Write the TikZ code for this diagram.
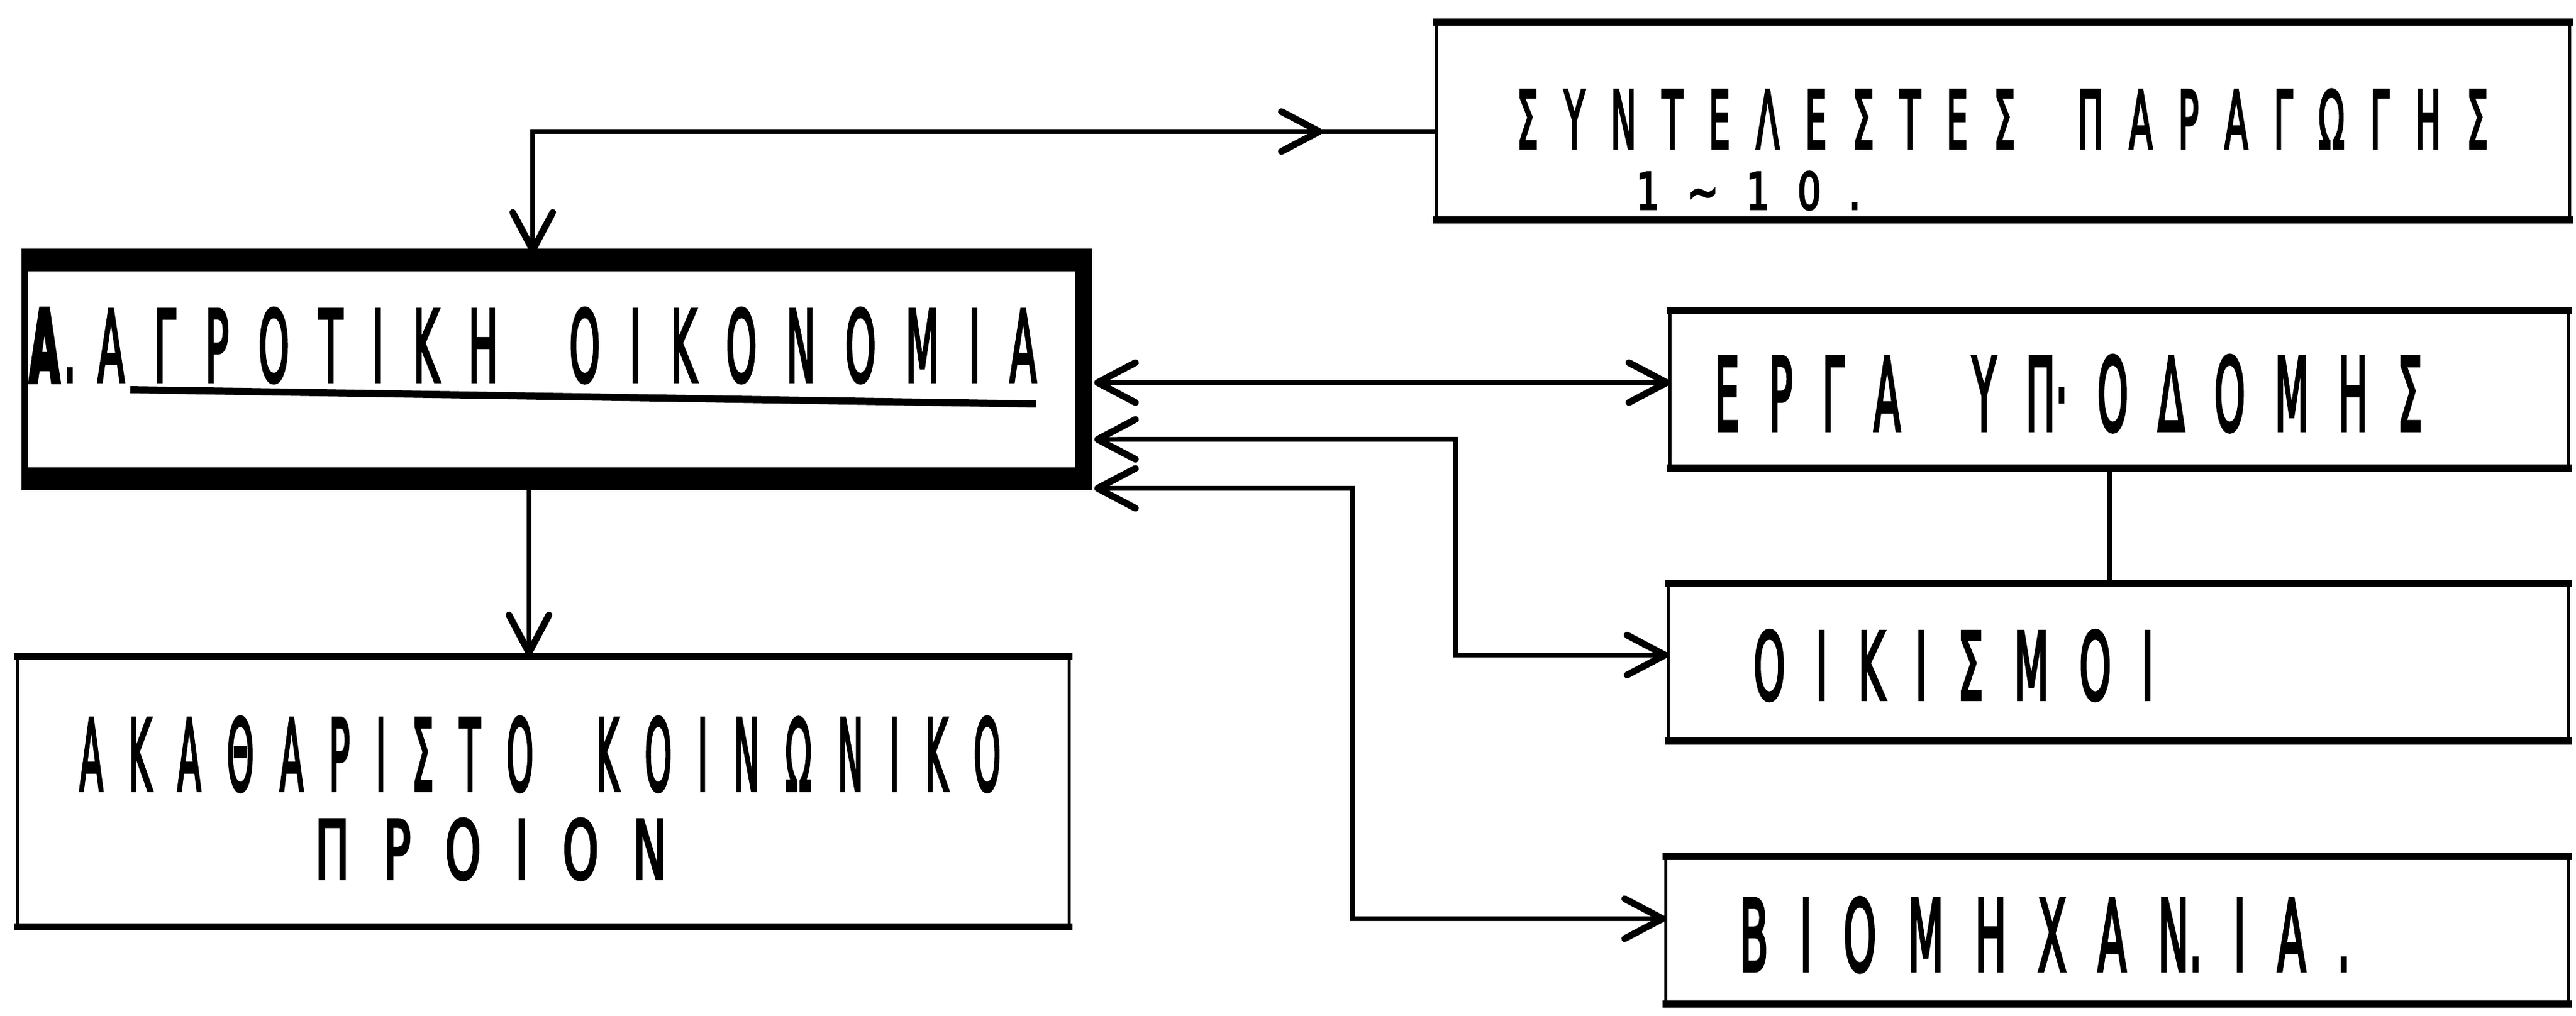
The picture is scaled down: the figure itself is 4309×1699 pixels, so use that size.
\documentclass[tikz,border=0pt]{standalone}
\usepackage{fontspec}
\setmainfont{DejaVu Sans}
\newfontfamily\stf[FakeBold=4]{DejaVu Sans}
\newfontfamily\stfb[FakeBold=6]{DejaVu Sans Bold}
\usetikzlibrary{arrows.meta,decorations.markings}
\newdimen\lsp
\def\spacedEnd{\spacedEnd}
\def\spEndmark{\spacedEnd}
\newcommand\spaced[1]{\spacedA#1\spacedEnd}
\def\spacedA#1{#1\spacedB}
\def\spacedB#1{\def\sptmp{#1}\ifx\sptmp\spEndmark\else\hskip\lsp\relax#1\expandafter\spacedB\fi}
\newcommand\stencil[3]{\resizebox{#1}{#2}{\stf\lsp=0.75em\relax\spaced{#3}}}
\tikzset{
  box/.style={draw, line width=1.6pt, inner sep=0pt, outer sep=0pt},
  hline/.style={line width=3.2pt, line cap=rect},
  conn/.style={line width=2.2pt},
  txt/.style={inner sep=0pt, outer sep=0pt, anchor=base west},
}
\begin{document}
\begin{tikzpicture}[x=0.01cm, y=-0.01cm,
  >={Straight Barb[length=18pt,width=19pt,line width=3.2pt,round]}]
\useasboundingbox (0,0) rectangle (4309,1699);
\fill[white] (0,0) rectangle (4309,1699);

% boxes
\node[box, minimum width=18.95cm, minimum height=3.31cm] (S) at (3350.5,202.5) {};
\node[box, line width=3.4pt, minimum width=17.70cm, minimum height=3.66cm] (A) at (927,618) {};
\node[box, minimum width=17.58cm, minimum height=4.52cm] (K) at (909,1324) {};
\node[box, minimum width=15.02cm, minimum height=2.63cm] (E) at (3545,651.5) {};
\node[box, minimum width=15.05cm, minimum height=2.64cm] (O) at (3543.5,1108) {};
\node[box, minimum width=15.09cm, minimum height=2.47cm] (B) at (3541.5,1556.5) {};

% heavier horizontal edges
\foreach \n in {S,K,E,O,B}
  \draw[hline] (\n.north west) -- (\n.north east) (\n.south west) -- (\n.south east);
\draw[line width=11pt]
  ([xshift=-1.7pt]A.north west) -- ([xshift=4.25pt]A.north east)
  ([xshift=-1.7pt]A.south west) -- ([xshift=4.25pt]A.south east);
\draw[line width=8.5pt, line cap=rect] (A.north east) -- (A.south east);

% texts
\node[txt] (tS1) at (2537,248) {\stencil{16.24cm}{0.98cm}{ΣΥΝΤΕΛΕΣΤΕΣ~ΠΑΡΑΓΩΓΗΣ}};
\node[txt] (tS2) at (2737,350) {\stencil{3.75cm}{0.63cm}{1∼10.}};
\node[txt] (tA) at (49,638) {\resizebox{16.84cm}{1.22cm}{\stf\lsp=0.75em\relax{\stfb Α}\hskip0.1em.\hskip0.55em\spaced{ΑΓΡΟΤΙΚΗ~ΟΙΚΟΝΟΜΙΑ}}};
\draw[line width=3.4pt] (218,652) -- (1733,676);
\node[txt] (tK1) at (133,1322) {\stencil{15.40cm}{1.22cm}{ΑΚΑΘΑΡΙΣΤΟ~ΚΟΙΝΩΝΙΚΟ}};
\node[txt] (tK2) at (527,1470) {\stencil{5.88cm}{1.0cm}{ΠΡΟΙΟΝ}};
\node[txt] (tE) at (2868,720) {\stencil{11.83cm}{1.25cm}{ΕΡΓΑ~Υ{Π·}ΟΔΟΜΗΣ}};
\node[txt] (tO) at (2933,1170) {\stencil{6.69cm}{1.15cm}{ΟΙΚΙΣΜΟΙ}};
\node[txt] (tB) at (2910,1624) {\stencil{10.21cm}{1.22cm}{ΒΙΟΜΗΧΑ{Ν.}ΙΑ.}};

% connector anchors on A's right side
\coordinate (a3) at ([xshift=5.1pt,yshift=-6.3pt]A.east);
\coordinate (a4) at ([xshift=5.1pt,yshift=-33.3pt]A.east);
\coordinate (a5) at ([xshift=5.1pt,yshift=-56.6pt]A.east);
\coordinate (j1) at (2435,735);
\coordinate (j2) at (2262,817);

% connectors
\draw[conn,->,postaction={decorate},
  decoration={markings,mark=at position 1.9cm with {\arrowreversed{>}}}]
  ([yshift=-5pt]S.west) -| ([xshift=-10.2pt,yshift=3pt]A.north);
\draw[conn,->] ([xshift=-12pt]A.south) -- ([xshift=-12pt]A.south |- K.north);
\draw[conn,<->] (a3) -- (a3 -| E.west);
\draw[conn,<->] (a4) -- (j1) |- ([yshift=3.4pt]O.west);
\draw[conn,<->] (a5) -- (j2) |- ([yshift=5.5pt]B.west);
\draw[conn] ([xshift=-4.6pt]E.south) -- ([xshift=-4.6pt]E.south |- O.north);
\end{tikzpicture}
\end{document}
